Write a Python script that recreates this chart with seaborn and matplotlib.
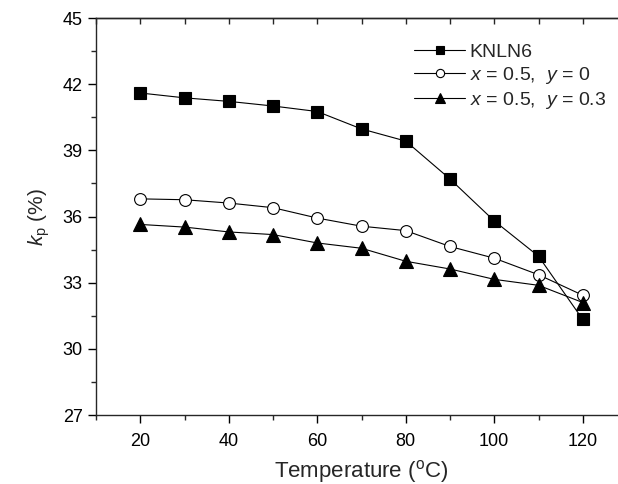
import numpy as np
import pandas as pd
import matplotlib
matplotlib.use('Agg')
import matplotlib.pyplot as plt
import seaborn as sns

# data
temperature = [20, 30, 40, 50, 60, 70, 80, 90, 100, 110, 120]
kp_knln6 = [41.6, 41.38, 41.22, 41.01, 40.76, 39.97, 39.42, 37.7, 35.8, 34.2, 31.33]
kp_y0 = [36.8, 36.76, 36.61, 36.4, 35.93, 35.56, 35.36, 34.64, 34.11, 33.36, 32.43]
kp_y03 = [35.64, 35.52, 35.3, 35.18, 34.8, 34.56, 33.97, 33.62, 33.15, 32.88, 32.1]

labels = ['KNLN6', r'$x$ = 0.5,  $y$ = 0', r'$x$ = 0.5,  $y$ = 0.3']

sns.set_style('ticks')
plt.rcParams['font.family'] = ['Liberation Sans', 'DejaVu Sans']
plt.rcParams['mathtext.fontset'] = 'custom'
plt.rcParams['mathtext.rm'] = 'Liberation Sans'
plt.rcParams['mathtext.it'] = 'Liberation Sans:italic'
plt.rcParams['axes.linewidth'] = 1.0

fig = plt.figure(figsize=(6.18, 4.84), dpi=100)
ax = fig.add_axes([96 / 618, 69 / 484, 531 / 618, 397 / 484])

styles = [
    dict(marker='s', markersize=8, markerfacecolor='black'),
    dict(marker='o', markersize=8.5, markerfacecolor='white'),
    dict(marker='^', markersize=9.5, markerfacecolor='black'),
]
for vals, lab, st in zip([kp_knln6, kp_y0, kp_y03], labels, styles):
    df = pd.DataFrame({'T': temperature, 'kp': vals})
    sns.lineplot(data=df, x='T', y='kp', ax=ax, color='black', linewidth=0.8,
                 markeredgecolor='black', markeredgewidth=0.8, label=lab, **st)

ax.set_xlim(10, 130)
ax.set_ylim(27, 45)
ax.set_xticks(np.arange(20, 121, 20))
ax.set_xticks(np.arange(10, 131, 20), minor=True)
ax.set_yticks(np.arange(27, 46, 3))
ax.set_yticks(np.arange(28.5, 45, 3), minor=True)
ax.tick_params(which='major', direction='out', length=6, width=1, labelsize=13, colors='black')
ax.tick_params(axis='x', which='major', pad=7)
ax.tick_params(which='minor', direction='out', length=3.5, width=1)
ax.spines['right'].set_visible(False)

top = ax.secondary_xaxis('top')
top.set_xticks(np.arange(10, 131, 10))
top.tick_params(direction='in', length=4, width=1, labeltop=False)

ax.set_xlabel(r'Temperature ($^\mathrm{o}$C)', fontsize=16, labelpad=6)
ax.set_ylabel(r'$k_\mathrm{p}$ (%)', fontsize=15, labelpad=8)

ax.legend(loc='upper left', bbox_to_anchor=(0.585, 0.955), frameon=False,
          fontsize=14, markerscale=0.7, handlelength=2.6, handletextpad=0.25,
          labelspacing=0.2, borderaxespad=0)

fig.savefig('out.png', dpi=100)
